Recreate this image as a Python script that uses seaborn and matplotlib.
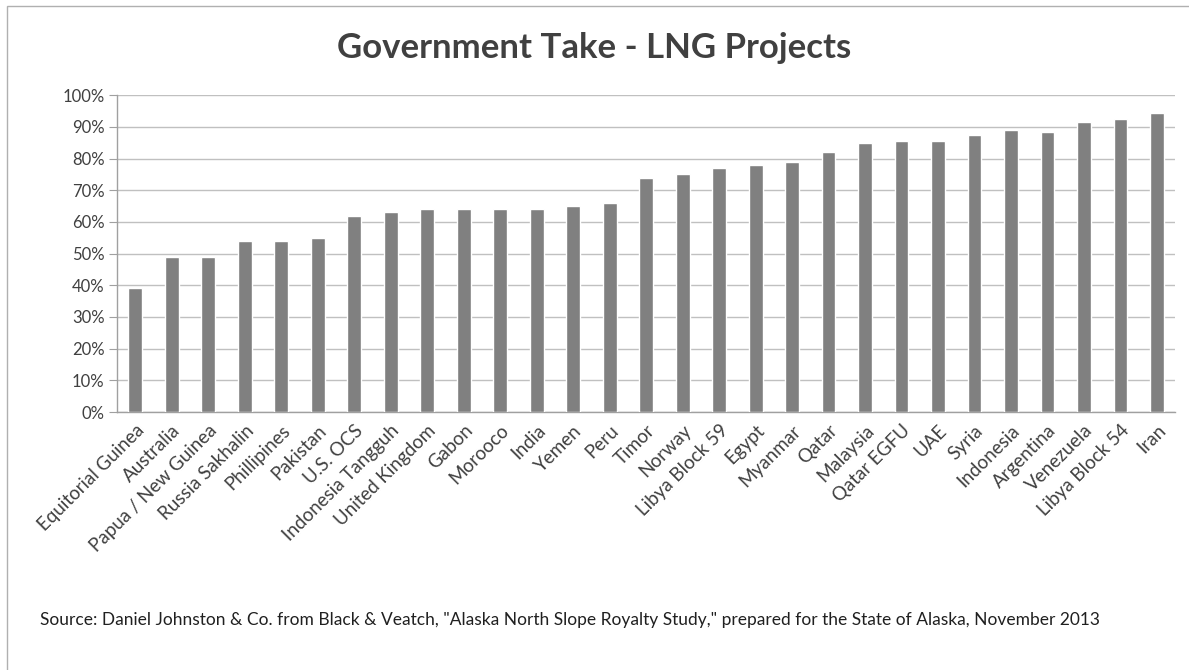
import pandas as pd
import numpy as np
import matplotlib
matplotlib.use('Agg')
import matplotlib.pyplot as plt
import seaborn as sns
from matplotlib.ticker import PercentFormatter, FixedLocator
from matplotlib.patches import Rectangle

# Chart data
projects = ['Equitorial Guinea', 'Australia', 'Papua / New Guinea', 'Russia Sakhalin',
            'Phillipines', 'Pakistan', 'U.S. OCS', 'Indonesia Tangguh', 'United Kingdom',
            'Gabon', 'Morooco', 'India', 'Yemen', 'Peru', 'Timor', 'Norway',
            'Libya Block 59', 'Egypt', 'Myanmar', 'Qatar', 'Malaysia', 'Qatar EGFU',
            'UAE', 'Syria', 'Indonesia', 'Argentina', 'Venezuela', 'Libya Block 54', 'Iran']
gov_take = [39, 49, 49, 54, 54, 55, 62, 63, 64, 64, 64, 64, 65, 66, 74, 75,
            77, 78, 79, 82, 85, 85.5, 85.5, 87.5, 89, 88.5, 91.5, 92.5, 94.5]
y_ticks = list(range(0, 101, 10))

df = pd.DataFrame({'project': projects, 'take': gov_take})

sns.set_style('white')
plt.rcParams['font.family'] = ['Lato', 'DejaVu Sans']

fig = plt.figure(figsize=(11.89, 6.70), dpi=100)
ax = fig.add_axes([0.0984, 0.385, 0.890, 0.473])

sns.barplot(data=df, x='project', y='take', order=projects, color='#808080',
            saturation=1, width=0.38, ax=ax, zorder=3)

ax.set_ylim(0, 100)
ax.set_xlim(-0.5, len(projects) - 0.5)
ax.yaxis.set_major_locator(FixedLocator(y_ticks))
ax.yaxis.set_major_formatter(PercentFormatter(100, decimals=0))
ax.grid(axis='y', color='#c0c0c0', linewidth=1, zorder=0)
ax.set_axisbelow(True)

# excel style: ticks between categories
ax.set_xticks(range(len(projects)))
ax.set_xticklabels(projects, rotation=45, ha='right', rotation_mode='anchor',
                   fontsize=13.5, color='#404040')
ax.set_xticks(np.arange(-0.5, len(projects), 1), minor=True)
ax.tick_params(axis='x', which='major', length=0, pad=7)
ax.tick_params(axis='x', which='minor', length=5, color='#a0a0a0', direction='out')
ax.tick_params(axis='y', length=6, color='#a0a0a0', direction='out', labelsize=12,
               labelcolor='#404040', pad=3, left=True)

for s in ['top', 'right']:
    ax.spines[s].set_visible(False)
for s in ['left', 'bottom']:
    ax.spines[s].set_color('#a0a0a0')
    ax.spines[s].set_linewidth(1)

ax.set_xlabel('')
ax.set_ylabel('')

fig.text(0.5, 0.928, 'Government Take - LNG Projects', ha='center', va='center',
         fontsize=25, fontweight='bold', color='#404040')
fig.text(0.034, 0.074, 'Source: Daniel Johnston & Co. from Black & Veatch, "Alaska North Slope Royalty Study," '
         'prepared for the State of Alaska, November 2013',
         ha='left', va='center', fontsize=12.5, color='#202020')

# chart frame
fig.patches.append(Rectangle((0.006, -0.05), 1.2, 1.041, transform=fig.transFigure,
                             fill=False, edgecolor='#b0b0b0', linewidth=1))

fig.savefig('out.png', dpi=100)
